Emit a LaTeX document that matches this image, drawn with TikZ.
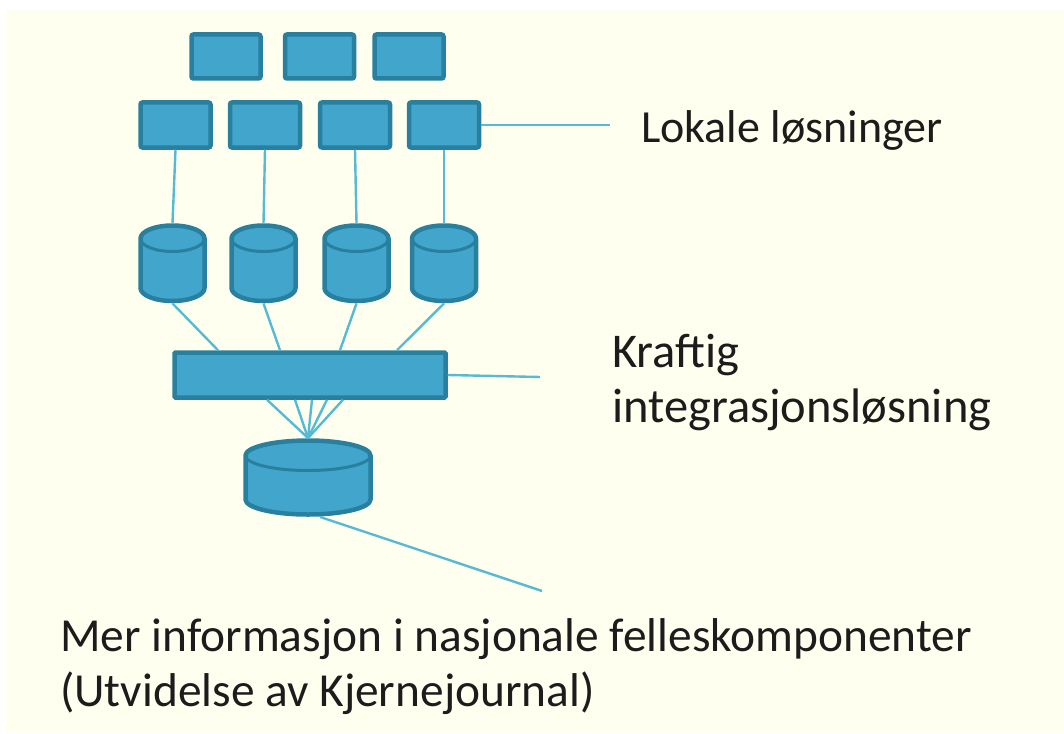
\documentclass[tikz,border=0pt]{standalone}
\usepackage{fontspec}
\setmainfont{Carlito}
\definecolor{bg}{RGB}{255,255,240}
\definecolor{boxfill}{RGB}{66,165,204}
\definecolor{boxline}{RGB}{40,128,158}
\definecolor{conn}{RGB}{86,186,212}
\definecolor{txt}{RGB}{28,28,28}
\tikzset{
  box/.style={rectangle, rounded corners=2pt, fill=boxfill, draw=boxline, line width=4.5pt, inner sep=0pt},
  cylbody/.style={fill=boxfill, draw=boxline, line width=4.5pt, line join=round},
  conline/.style={draw=conn, line width=2.4pt},
  lbl/.style={anchor=base west, inner sep=0pt, text=txt},
}
\newcommand\dbcyl[6]{%
  % name, x, y of top ellipse centre, y of bottom ellipse centre, rx, ry
  \node[inner sep=0pt, minimum width=#5*2pt+4.5pt, minimum height=#4pt-#3pt+#6*2pt+4.5pt] (#1) at (#2,{(#3+#4)/2}) {};
  \draw[cylbody] ({#2-#5},#3) -- ({#2-#5},#4) arc[start angle=180, end angle=360, x radius=#5pt, y radius=#6pt]
     -- ({#2+#5},#3) arc[start angle=0, end angle=180, x radius=#5pt, y radius=#6pt] -- cycle;
  \draw[boxline, line width=3pt] ({#2-#5},#3) arc[start angle=180, end angle=360, x radius=#5pt, y radius=#6pt];
}
\begin{document}
\begin{tikzpicture}[x=1pt, y=-1pt]
\useasboundingbox (0,0) rectangle (1064,733);
\fill[white] (0,0) rectangle (1064,733);
\fill[bg] (6,10) rectangle (1064,733);

% top row
\node[box, minimum width=69pt, minimum height=44pt] (a1) at (226,56.5) {};
\node[box, minimum width=69pt, minimum height=44pt] (a2) at (319.5,56.5) {};
\node[box, minimum width=69pt, minimum height=44pt] (a3) at (409,56.5) {};
% second row
\node[box, minimum width=70pt, minimum height=45pt] (b1) at (175.5,125) {};
\node[box, minimum width=70pt, minimum height=45pt] (b2) at (265,125) {};
\node[box, minimum width=70pt, minimum height=45pt] (b3) at (355,125) {};
\node[box, minimum width=70pt, minimum height=45pt] (b4) at (444,125) {};

% cylinders
\dbcyl{c1}{172.5}{238.5}{288}{32}{13}
\dbcyl{c2}{263.5}{238.5}{288}{32}{13}
\dbcyl{c3}{356.5}{238.5}{288}{32}{13}
\dbcyl{c4}{444}{238.5}{288}{32}{13}

% integration bar
\node[box, rounded corners=1pt, minimum width=271pt, minimum height=45pt] (bar) at (310,375) {};

% bottom cylinder
\dbcyl{d}{308}{455.5}{499.5}{62.5}{15}

% connectors
\draw[conline] (b1.south) -- (c1.north);
\draw[conline] (b2.south) -- (c2.north);
\draw[conline] (b3.south) -- (c3.north);
\draw[conline] (b4.south) -- (c4.north);

\draw[conline] (c1.south) -- ([xshift=-92pt]bar.north);
\draw[conline] (c2.south) -- ([xshift=-30pt]bar.north);
\draw[conline] (c3.south) -- ([xshift=30pt]bar.north);
\draw[conline] (c4.south) -- ([xshift=87pt]bar.north);

\draw[conline] ([xshift=-43pt]bar.south) -- (d.north);
\draw[conline] ([xshift=-15pt]bar.south) -- (d.north);
\draw[conline] ([xshift=2pt]bar.south) -- (d.north);
\draw[conline] ([xshift=17pt]bar.south) -- (d.north);
\draw[conline] ([xshift=33pt]bar.south) -- (d.north);

% label leaders
\coordinate (e1) at (610,125);
\coordinate (e2) at (540,377);
\coordinate (e3) at (542,591);
\draw[conline] (b4.east) -- (e1);
\draw[conline] (bar.east) -- (e2);
\draw[conline] ([xshift=12pt]d.south) -- (e3);

% labels
\node[lbl, font=\fontsize{46}{55}\selectfont] (t1) at (641,142) {Lokale løsninger};
\node[lbl, font=\fontsize{48.5}{55}\selectfont] (t2) at (612,367) {Kraftig};
\node[lbl, font=\fontsize{48.5}{55}\selectfont] (t3) at (612,422) {integrasjonsløsning};
\node[lbl, font=\fontsize{47.4}{55}\selectfont] (t4) at (60,651) {Mer informasjon i nasjonale felleskomponenter};
\node[lbl, font=\fontsize{47.4}{55}\selectfont] (t5) at (60,706) {(Utvidelse av Kjernejournal)};
\end{tikzpicture}
\end{document}
